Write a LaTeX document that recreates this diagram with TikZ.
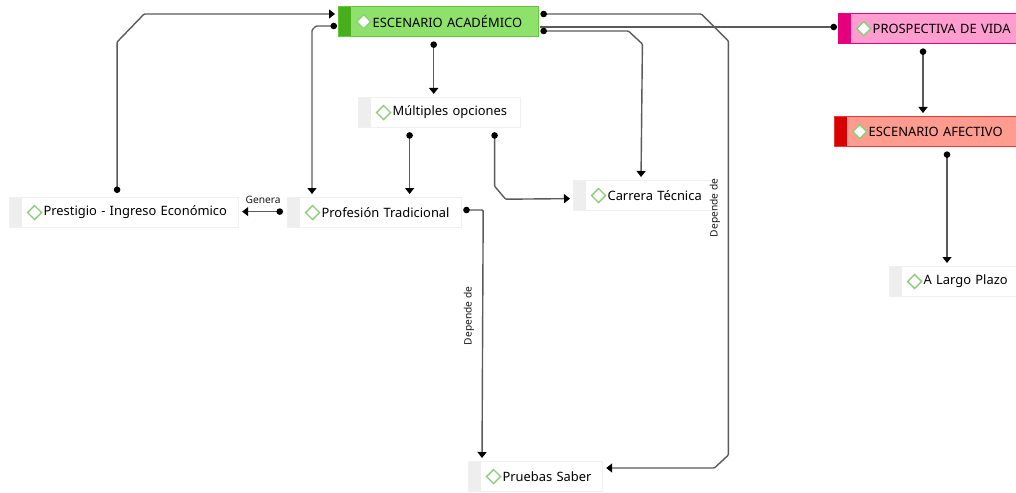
\documentclass[tikz,border=0pt]{standalone}
\usepackage{xcolor}
\usepackage{fontspec}
\usepackage{tikz}
\usetikzlibrary{arrows.meta, positioning, calc}
\newfontfamily\mapfont{Noto Sans}
\definecolor{acadfill}{HTML}{8EE26B}
\definecolor{acadstrip}{HTML}{48AE1E}
\definecolor{acadline}{HTML}{62C83C}
\definecolor{prosfill}{HTML}{FF9DD0}
\definecolor{prosstrip}{HTML}{E5007D}
\definecolor{afecfill}{HTML}{FF9C8F}
\definecolor{afecstrip}{HTML}{D90000}
\definecolor{afecline}{HTML}{E83A30}
\definecolor{plainstrip}{HTML}{EEEEEE}
\definecolor{diamgreen}{HTML}{8CCD78}
\definecolor{connline}{HTML}{5A5A5A}

\begin{document}
\begin{tikzpicture}[x=1pt, y=-1pt,
	strip/.style={path picture={
		\fill[#1] (path picture bounding box.north west) rectangle ([xshift=12pt]path picture bounding box.south west);
		\draw[diamgreen, fill=white, line width=1.4pt, line join=miter] ([xshift=18pt]path picture bounding box.west) -- ++(7pt,7pt) -- ++(7pt,-7pt) -- ++(-7pt,-7pt) -- cycle;}},
	topic/.style={anchor=north west, rectangle, inner sep=0pt, minimum height=30pt, align=left,
		font=\mapfont\fontsize{12.9}{14}\selectfont, text=black},
	plain/.style={topic, fill=white, draw=black!6, line width=1.2pt, strip=plainstrip},
	conn/.style={draw=connline, line width=1.4pt, rounded corners=1pt, shorten <=1pt, shorten >=3pt,
		{Circle[length=6.5pt, color=black]}-{Triangle[length=6pt, width=9pt, color=black]}},
	linklabel/.style={font=\mapfont\fontsize{10.2}{11}\selectfont, text=black!90, inner sep=1pt}]
\useasboundingbox (0,0) rectangle (1016,492);

\node[topic, fill=acadfill, draw=acadline, line width=1.4pt, strip=acadstrip, text width=200pt] (acad) at (338,6) {\hspace*{34pt}ESCENARIO ACADÉMICO};
\node[topic, fill=prosfill, draw=prosstrip, line width=1.4pt, strip=prosstrip, text width=182pt] (pros) at (838,13) {\hspace*{34pt}PROSPECTIVA DE VIDA};
\node[topic, fill=afecfill, draw=afecline, line width=1.4pt, strip=afecstrip, text width=186pt] (afec) at (834,116) {\hspace*{34pt}ESCENARIO AFECTIVO};
\node[plain, text width=162pt] (mult) at (358,97) {\hspace*{34pt}Múltiples opciones};
\node[plain, text width=229pt] (prest) at (9,197) {\hspace*{34pt}Prestigio - Ingreso Económico};
\node[plain, text width=174pt] (prof) at (287,197) {\hspace*{34pt}Profesión Tradicional};
\node[plain, text width=139pt] (carr) at (573,180) {\hspace*{34pt}Carrera Técnica};
\node[plain, text width=134pt] (prue) at (468,461) {\hspace*{34pt}Pruebas Saber};
\node[plain, text width=130pt] (largo) at (889,266) {\hspace*{34pt}A Largo Plazo};

\draw[conn, shorten <=4pt] ([xshift=-7pt]prest.north) -- ++(0,-155) -- ++(27,-28) -- ([yshift=-8pt]acad.north west);
\draw[conn] ([yshift=-20pt]acad.north west) -- ++(-22,0) -- ++(-4,4) -- ([xshift=25pt]prof.north west);
\draw[conn, shorten <=4pt] ([xshift=-5pt]acad.south) -- ([xshift=-5pt]acad.south |- mult.north);
\draw[conn, -{Circle[length=6.5pt, color=black]}, shorten >=1pt] ([yshift=-21pt]acad.north east) -- ([yshift=-14pt]pros.north west);
\draw[conn] ([yshift=-25pt]acad.north east) -- ++(89,0) -- ++(14,13) -- ([xshift=68pt]carr.north west);
\draw[conn] ([yshift=-8pt]acad.north east) -- ++(162,0) -- ++(27,27) -- ++(0,414) -- ++(-14,13) -- ([yshift=-7pt]prue.north east);
\draw[conn, shorten <=4pt] ([xshift=-30pt]mult.south) -- ([xshift=-30pt]mult.south |- prof.north);
\draw[conn, shorten <=4pt] ([xshift=55pt]mult.south) -- ++(0,58) -- ++(11,13) -- ([yshift=-3pt]carr.west);
\draw[conn, shorten <=4pt] ([yshift=1pt]prof.west) -- ([yshift=1pt]prest.east -| prest.east) node[linklabel, midway, above=6pt] (genera) {Genera};
\draw[conn] ([yshift=-13pt]prof.north east) -- ++(21,0) -- ([xshift=14pt]prue.north west);
\draw[conn, shorten <=4pt] ([xshift=85pt]pros.south west) -- ([xshift=85pt]pros.south west |- afec.north);
\draw[conn, shorten <=4pt] ([xshift=113pt]afec.south west) -- ([xshift=113pt]afec.south west |- largo.north);

\node[linklabel, rotate=90] (dep1) at (469,316) {Depende de};
\node[linklabel, rotate=90] (dep2) at (715,208) {Depende de};
\end{tikzpicture}
\end{document}
